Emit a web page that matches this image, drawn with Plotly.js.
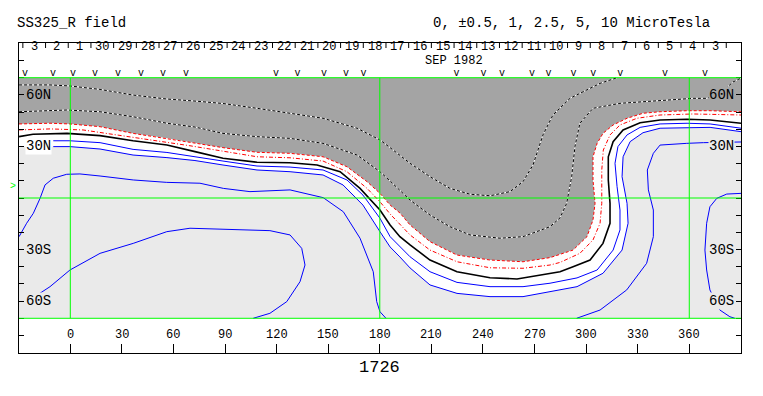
<!DOCTYPE html>
<html><head><meta charset="utf-8">
<script src="https://cdn.plot.ly/plotly-3.0.1.min.js"></script>
<style>html,body{margin:0;padding:0;background:#fff}#chart{width:763px;height:396px}</style>
</head><body><div id="chart"></div>
<script>
const FONT = 'Liberation Mono, Courier New, monospace';

// axis ticks / labels
const lonTickVals = [0,30,60,90,120,150,180,210,240,270,300,330,360];
const latTickVals = [-80,-70,-60,-50,-40,-30,-20,-10,0,10,20,30,40,50,60,70,80];
const latLabelVals = [60,30,-30,-60];
const latLabelText = ['60N','30N','30S','60S'];
const gridLon = [0,180,360];
const gridLat = [-70,0,70];

// day-of-month strip (Sep/Oct 1982)
const dayLabels = ['3','2','1','30','29','28','27','26','25','24','23','22','21','20','19','18','17','16','15','14','13','12','11','10','9','8','7','6','5','4','3'];
const dayLabelLon = [-21.0,-7.8,5.4,18.6,31.8,45.0,58.2,71.4,84.6,97.8,111.0,124.2,137.4,150.6,163.8,177.0,190.2,203.4,216.6,229.8,243.0,256.2,269.4,282.6,295.8,309.0,322.2,335.4,348.6,361.8,375.0];
const dayTickLon = [-27.6,-14.4,-1.2,12.0,25.2,38.4,51.6,64.8,78.0,91.2,104.4,117.6,130.8,144.0,157.2,170.4,183.6,196.8,210.0,223.2,236.4,249.6,262.8,276.0,289.2,302.4,315.6,328.8,342.0,355.2,368.4,381.5];
const obsLon = [-26.3,-10.1,1.6,14.4,27.7,41.1,53.9,67.3,119.6,132.1,147.6,160.3,170.5,224.6,240.3,251.1,268.5,278.1,292.7,304.1,319.8,345.9,369.1];
const obsLat = 72.7;
const b0Lat = 6.6;

// contour -5 uT (dashed)
const d1Lon = [-29.8,-11.8,-0.2,17.3,36.5,56.2,72.5,88.8,108.6,127.8,147.0,166.8,180.1,186.0,191.7,197.6,209.2,220.8,232.5,244.1,255.7,263.3,269.1,274.9,280.7,284.8,290.6,296.4,308.1,318.0];
const d1Lat = [65.8,65.8,65.2,63.2,59.9,57.6,56.4,55.0,52.2,49.3,46.4,40.6,33.8,29.3,25.0,20.2,12.4,5.6,2.2,1.3,3.7,9.5,19.2,36.7,48.3,52.4,58.0,60.9,66.7,70.0];
// contour -2.5 uT (dashed)
const d2Lon = [-29.8,-2.1,17.3,36.5,56.2,72.5,88.8,108.6,127.8,147.0,166.8,180.1,186.0,191.7,197.6,209.2,220.8,232.5,249.9,263.3,279.0,284.8,288.7,291.6,293.5,296.4,304.0,319.7,333.1,348.8,362.2,370.3,379.0,385.4,390.1];
const d2Lat = [50.2,51.2,50.2,47.3,43.5,41.3,37.6,35.7,34.7,31.8,25.0,15.3,9.9,4.7,-1.2,-9.9,-16.7,-21.5,-23.4,-22.5,-16.7,-11.6,-3.1,12.4,29.9,43.5,52.2,55.1,56.0,57.4,58.0,58.0,61.7,67.5,69.8];
// contour -1 uT (red dashed)
const r1Lon = [-29.8,-11.8,-0.2,17.3,36.5,56.2,69.6,88.8,108.6,127.8,147.0,160.9,172.6,180.1,186.0,191.7,197.6,209.2,224.9,244.1,263.3,279.0,292.4,300.5,304.0,305.2,304.0,304.0,306.4,309.8,315.7,323.8,333.1,343.0,358.7,372.1,390.1];
const r1Lat = [43.1,43.5,43.1,41.5,37.6,34.7,32.4,29.3,26.6,26.0,24.0,18.2,9.5,2.7,-4.1,-8.7,-15.7,-25.4,-33.2,-36.1,-37.1,-34.7,-30.3,-22.5,-12.8,-3.1,10.5,24.0,31.8,37.6,42.5,46.4,49.3,50.2,50.8,50.8,50.2];
// contour -0.5 uT (red dash-dot)
const r2Lon = [-29.8,-11.8,7.4,27.2,46.4,69.6,108.6,127.8,147.0,160.9,172.6,180.1,186.0,191.7,197.6,209.2,224.9,244.1,263.3,279.0,284.8,296.4,304.0,308.1,309.1,309.1,310.0,313.9,319.7,329.6,343.0,362.2,390.1];
const r2Lat = [39.6,40.2,39.6,36.7,33.8,30.4,24.0,23.4,21.5,15.3,5.6,-2.2,-9.3,-15.1,-21.5,-30.3,-37.1,-40.6,-40.9,-39.0,-37.5,-32.2,-24.4,-14.7,-3.1,16.3,27.9,36.7,42.5,46.4,48.3,48.9,48.3];
// neutral line 0
const kLon = [-29.8,-21.7,-1.9,17.3,36.5,56.2,72.5,88.8,108.6,127.8,143.5,156.9,168.5,180.1,186.0,191.7,197.6,209.2,224.9,244.1,259.8,274.9,284.8,292.4,302.3,309.8,313.9,313.9,312.9,312.9,315.7,321.5,331.4,343.0,358.7,372.1,390.1];
const kLat = [35.7,37.1,37.6,36.3,33.3,30.8,27.0,23.1,20.8,20.5,19.2,15.3,5.6,-7.0,-15.7,-22.5,-27.3,-36.1,-42.9,-46.4,-47.1,-44.8,-42.9,-40.0,-36.1,-26.4,-14.7,-3.1,10.5,24.0,32.8,39.6,43.8,45.4,45.8,45.4,43.5];
// contour +0.5 uT
const b1Lon = [-9.9,-0.2,17.3,36.5,56.2,72.5,88.8,108.6,127.8,147.0,160.9,170.2,180.1,186.0,197.6,209.2,224.9,244.1,263.3,279.0,294.7,306.4,315.7,319.7,319.7,318.0,316.8,318.5,323.8,331.4,343.0,358.7,372.1,390.1];
const b1Lat = [33.3,33.3,32.2,28.3,26.5,24.2,21.5,18.6,18.0,16.3,10.5,1.7,-11.8,-22.5,-34.2,-42.9,-49.1,-51.6,-51.6,-49.6,-46.5,-41.9,-30.3,-18.6,-7.0,6.6,20.2,29.9,36.7,41.1,43.1,43.5,43.1,40.6];
// contour +1 uT
const b2Lon = [-9.9,-0.2,17.3,36.5,56.2,72.5,88.8,108.6,127.8,147.0,158.6,170.2,180.1,186.0,191.7,197.6,209.2,224.9,244.1,263.3,279.0,294.7,309.8,320.9,324.4,323.8,320.9,321.5,325.6,333.1,343.0,358.7,372.1,390.1];
const b2Lat = [29.9,29.9,28.5,25.0,23.5,21.8,19.2,16.3,15.3,13.4,7.6,-4.1,-19.6,-28.5,-34.3,-40.7,-50.6,-55.5,-57.4,-57.4,-54.5,-51.6,-43.8,-30.3,-14.7,-3.1,12.4,24.0,32.8,38.0,40.6,41.1,41.1,38.6];
// contour +2.5 uT (west and east branches)
const b3aLon = [-29.8,-25.4,-21.5,-17.6,-14.7,-9.9,-2.1,5.6,17.3,36.6,56.1,75.4,89.0,104.5,127.8,147.1,158.8,168.5,176.2,178.2,180.1,183.6];
const b3aLat = [-22.5,-14.7,-8.9,-0.2,7.6,11.5,13.8,14.0,12.8,10.5,9.1,8.6,5.6,3.7,4.7,0.2,-8.0,-23.4,-42.9,-60.3,-66.2,-70.0];
const b3bLon = [294.5,308.1,323.6,335.2,339.1,339.1,336.2,335.6,339.1,343.0,358.5,368.2,390.1];
const b3bLat = [-70.0,-65.2,-53.5,-38.0,-22.5,-7.0,4.7,16.3,26.0,30.8,31.8,32.2,32.6];
// contour +5 uT
const b4Lon = [-17.6,-11.8,-0.2,17.3,36.6,56.1,69.6,89.0,116.1,127.8,134.6,136.5,133.6,125.9,116.1,106.4];
const b4Lat = [-55.4,-51.6,-41.9,-32.2,-26.4,-19.6,-17.6,-18.2,-19.0,-21.5,-29.3,-39.0,-48.7,-60.3,-67.1,-70.0];
const b5Lon = [390.1,381.8,376.0,372.0,370.1,369.1,370.1,372.0,377.8,383.6,386.5];
const b5Lat = [2.7,2.3,-0.2,-5.1,-14.7,-30.3,-41.9,-53.5,-65.2,-69.1,-70.0];

const DARK = '#a4a4a4', LIGHT = '#eaeaea', GREEN = '#00ff00';
const MAP_TOP = 70, MAP_BOT = -70, EDGE_L = -31, EDGE_R = 392;

function line(x, y, color, width, dash) {
  return {type:'scatter', mode:'lines', x:x, y:y, line:{color:color, width:width, dash:dash||'solid'}, hoverinfo:'skip', showlegend:false};
}
const last = a => a[a.length-1];
const rev = a => a.slice().reverse();

const darkFill = {type:'scatter', mode:'none', fill:'toself', fillcolor:DARK, hoverinfo:'skip', showlegend:false,
  x:[EDGE_L].concat(r1Lon, [EDGE_R, EDGE_R, EDGE_L]),
  y:[r1Lat[0]].concat(r1Lat, [last(r1Lat), MAP_TOP, MAP_TOP])};
const whiteFill = {type:'scatter', mode:'none', fill:'toself', fillcolor:'#ffffff', hoverinfo:'skip', showlegend:false,
  x:[EDGE_L].concat(r1Lon, [EDGE_R, EDGE_R], rev(b2Lon), [EDGE_L]),
  y:[r1Lat[0]].concat(r1Lat, [last(r1Lat), last(b2Lat)], rev(b2Lat), [b2Lat[0]])};

const traces = [
  darkFill, whiteFill,
  line(d1Lon, d1Lat, '#ffffff', 1), line(d1Lon, d1Lat, '#000000', 1, '3px,2px'),
  line(d2Lon, d2Lat, '#ffffff', 1), line(d2Lon, d2Lat, '#000000', 1, '3px,2px'),
  line(r1Lon, r1Lat, '#ff0000', 1, '3px,2px'),
  line(r2Lon, r2Lat, '#ff0000', 1, '4px,2px,1px,2px'),
  line(kLon, kLat, '#000000', 1.6),
  line(b1Lon, b1Lat, '#0000ff', 1),
  line(b2Lon, b2Lat, '#0000ff', 1),
  line(b3aLon, b3aLat, '#0000ff', 1),
  line(b3bLon, b3bLat, '#0000ff', 1),
  line(b4Lon, b4Lat, '#0000ff', 1),
  line(b5Lon, b5Lat, '#0000ff', 1),
  {type:'scatter', mode:'text', x:obsLon, y:obsLon.map(() => obsLat), text:obsLon.map(() => 'v'),
   textfont:{family:FONT, size:10, color:'#000'}, hoverinfo:'skip', showlegend:false}
];

const shapes = [
  {type:'rect', xref:'paper', x0:0, x1:1, yref:'y', y0:MAP_BOT, y1:MAP_TOP, fillcolor:LIGHT, line:{width:0}, layer:'below'}
];
gridLon.forEach(l => shapes.push({type:'line', xref:'x', x0:l, x1:l, yref:'y', y0:MAP_BOT, y1:MAP_TOP, line:{color:GREEN, width:1}, layer:'above'}));
gridLat.forEach(l => shapes.push({type:'line', xref:'paper', x0:0, x1:1, yref:'y', y0:l, y1:l, line:{color:GREEN, width:1}, layer:'above'}));
dayTickLon.forEach(l => shapes.push({type:'line', xref:'x', x0:l, x1:l, yref:'paper', ysizemode:'pixel', yanchor:1, y0:0, y1:-5, line:{color:'#000', width:1}}));

const ann = [];
const f = (s, c) => ({family:FONT, size:s, color:c||'#000'});
ann.push({xref:'paper', yref:'paper', x:0, y:1, xanchor:'left', yanchor:'middle', xshift:-4, yshift:20, text:'SS325_R field', showarrow:false, font:f(14)});
ann.push({xref:'paper', yref:'paper', x:0.572, y:1, xanchor:'left', yanchor:'middle', xshift:-1, yshift:20, text:'0, ±0.5, 1, 2.5, 5, 10 MicroTesla', showarrow:false, font:f(14)});
ann.push({xref:'x', yref:'paper', x:180, y:0, xanchor:'center', yanchor:'middle', yshift:-14, text:'1726', showarrow:false, font:f(17)});
ann.push({xref:'x', yref:'y', x:223.3, y:80.0, text:'SEP 1982', showarrow:false, font:f(12)});
ann.push({xref:'paper', yref:'y', x:0, y:b0Lat, xanchor:'right', xshift:-1, text:'>', showarrow:false, font:f(10, GREEN)});
const bgL = [DARK, '#ffffff', LIGHT, LIGHT], bgR = [DARK, LIGHT, LIGHT, LIGHT];
latLabelVals.forEach((v, i) => {
  ann.push({xref:'paper', yref:'y', x:0, y:v, xanchor:'left', yanchor:'middle', xshift:6, text:latLabelText[i], showarrow:false, font:f(14), bgcolor:bgL[i], borderpad:0});
  ann.push({xref:'paper', yref:'y', x:1, y:v, xanchor:'right', yanchor:'middle', xshift:-6, text:latLabelText[i], showarrow:false, font:f(14), bgcolor:bgR[i], borderpad:0});
});
lonTickVals.forEach(v => ann.push({xref:'x', yref:'y', x:v, y:-80, text:String(v), showarrow:false, font:f(12)}));
dayLabels.forEach((d, i) => ann.push({xref:'x', yref:'y', x:dayLabelLon[i], y:88.0, text:d, showarrow:false, font:f(12)}));

const layout = {
  width:763, height:396, margin:{l:19, r:22, t:43, b:43, pad:0},
  paper_bgcolor:'#fff', plot_bgcolor:'#fff', showlegend:false, hovermode:false,
  xaxis:{range:[-29.84, 390.08], showgrid:false, zeroline:false, showline:true, linecolor:'#000', linewidth:1, mirror:true,
         ticks:'inside', ticklen:9, tickwidth:1, tickcolor:'#000', tickvals:lonTickVals, showticklabels:false, fixedrange:true},
  yaxis:{range:[-90.2, 90.2], showgrid:false, zeroline:false, showline:true, linecolor:'#000', linewidth:1, mirror:'ticks',
         ticks:'inside', ticklen:5, tickwidth:1, tickcolor:'#000', tickvals:latTickVals, showticklabels:false, fixedrange:true},
  shapes:shapes, annotations:ann
};
Plotly.newPlot('chart', traces, layout, {staticPlot:true, displayModeBar:false});
</script></body></html>
